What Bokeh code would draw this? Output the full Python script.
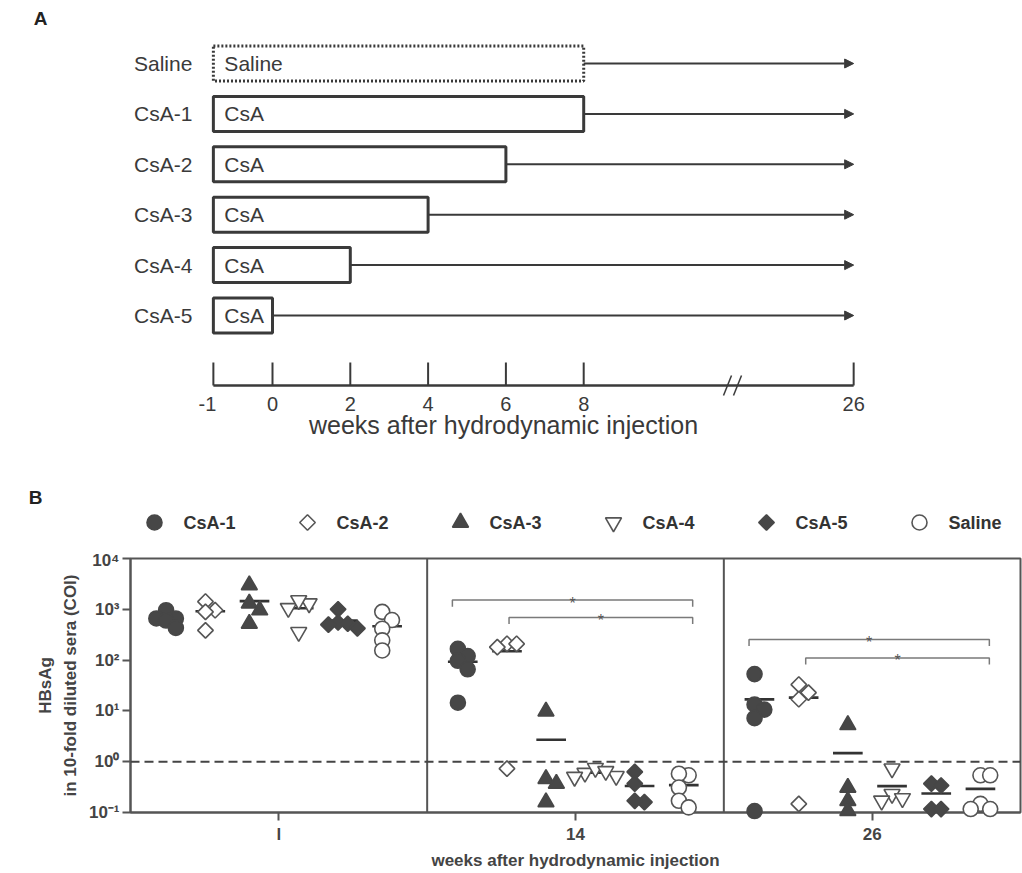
import numpy as np
from bokeh.plotting import figure
from bokeh.models import (Range1d, ColumnDataSource, Arrow, NormalHead, Span,
                          FixedTicker, CustomJSTickFormatter, LogAxis)
from bokeh.core.properties import value
from bokeh.embed import file_html
from bokeh.resources import INLINE

# ---------------- Panel A data (treatment schedule) ----------------
schedule_groups = ["Saline", "CsA-1", "CsA-2", "CsA-3", "CsA-4", "CsA-5"]
box_text = ["Saline", "CsA", "CsA", "CsA", "CsA", "CsA"]
treatment_end_week = [8, 8, 6, 4, 2, 0]
treatment_start_week = -1
follow_up_end_week = 26
timeline_weeks = [-1, 0, 2, 4, 6, 8, 26]
timeline_labels = ["-1", "0", "2", "4", "6", "8", "26"]
axis_title = "weeks after hydrodynamic injection"

# ---------------- Panel B data (HBsAg, COI) ----------------
timepoint_labels = ["l", "14", "26"]
groups = ["CsA-1", "CsA-2", "CsA-3", "CsA-4", "CsA-5", "Saline"]
csa1 = [[960, 660, 660, 600, 430], [166, 120, 97, 66, 14.5], [53, 13.4, 10.6, 7.2, 0.107]]
csa2 = [[1420, 960, 890, 385], [209, 180, 209, 0.73], [33, 22.9, 17, 0.148]]
csa3 = [[3000, 1310, 960, 525], [9.8, 0.46, 0.37, 0.16], [5.3, 0.31, 0.17, 0.108]]
csa4 = [[1300, 1050, 1500, 355], [0.6, 0.5, 0.75, 0.52, 0.65], [0.73, 0.23, 0.17, 0.19]]
csa5 = [[1000, 550, 520, 500, 420], [0.63, 0.37, 0.16, 0.17], [0.37, 0.34, 0.117, 0.117]]
saline = [[890, 615, 415, 245, 155], [0.54, 0.58, 0.31, 0.17, 0.126], [0.54, 0.54, 0.148, 0.117, 0.117]]
group_values = [csa1, csa2, csa3, csa4, csa5, saline]
y_ticks = [0.1, 1, 10, 100, 1000, 10000]
cutoff = 1
# significance brackets
sig_time = [1, 1, 2, 2]
sig_from = ["CsA-1", "CsA-2", "CsA-1", "CsA-2"]
sig_to = ["Saline", "Saline", "Saline", "Saline"]
sig_height = [1520, 690, 255, 110]

FONT = "Liberation Sans"
DARK = "#3a3a3a"
AXC = "#555555"
W = 1022

styles = [
    dict(marker="circle", size=15, fill_color="#474747", line_color="#474747", angle=0.0),
    dict(marker="square", size=11, fill_color="white", line_color="#555555", angle=np.pi / 4),
    dict(marker="triangle", size=16, fill_color="#474747", line_color="#474747", angle=0.0),
    dict(marker="inverted_triangle", size=16, fill_color="white", line_color="#555555", angle=0.0),
    dict(marker="square", size=11, fill_color="#474747", line_color="#474747", angle=np.pi / 4),
    dict(marker="circle", size=15, fill_color="white", line_color="#555555", angle=0.0),
]

# ======================= Top figure: panel A (+ legend of B) =======================
HA = 550
pA = figure(width=W, height=HA, x_axis_type=None, y_axis_type=None,
            x_range=Range1d(0, W), y_range=Range1d(HA, 0),
            toolbar_location=None, output_backend="svg", min_border=0)
pA.grid.visible = False
pA.outline_line_color = None

WEEK0, PXW = 272, 38.9
ROW0, ROW = 63, 50.4


def week_px(w):
    # schematic, broken time axis
    if w < 0:
        u = w * 1.52
    elif w > 8:
        u = 8 + 6.94
    else:
        u = w
    return WEEK0 + PXW * u


rows = [ROW0 + ROW * i for i in range(len(schedule_groups))]
half = 17.5
left = [week_px(treatment_start_week)] * len(rows)
right = [week_px(e) for e in treatment_end_week]
solid = [i for i, g in enumerate(schedule_groups) if g != "Saline"]
dotted = [i for i, g in enumerate(schedule_groups) if g == "Saline"]
for idx, dash in ((solid, "solid"), (dotted, "2 2")):
    pA.quad(left=[left[i] for i in idx], right=[right[i] for i in idx],
            top=[rows[i] - half for i in idx], bottom=[rows[i] + half for i in idx],
            fill_color="white", line_color=DARK, line_width=3, line_dash=dash)

arr_src = ColumnDataSource(dict(x0=right, y0=rows,
                                x1=[week_px(follow_up_end_week)] * len(rows), y1=rows))
pA.add_layout(Arrow(source=arr_src, x_start="x0", y_start="y0", x_end="x1", y_end="y1",
                    line_color=DARK, line_width=2,
                    end=NormalHead(size=9, fill_color=DARK, line_color=DARK)))

pA.text(x=[l - 21 for l in left], y=rows, text=schedule_groups,
        text_align="right", text_baseline="middle", text_font=value(FONT),
        text_font_size="21px", text_color=DARK)
pA.text(x=[l + 11 for l in left], y=rows, text=box_text,
        text_align="left", text_baseline="middle", text_font=value(FONT),
        text_font_size="21px", text_color=DARK)

axis_y = 385
tx = [week_px(w) for w in timeline_weeks]
pA.segment(x0=[tx[0]], y0=[axis_y], x1=[tx[-1]], y1=[axis_y], line_color=DARK, line_width=2.5)
pA.segment(x0=tx, y0=[axis_y] * len(tx), x1=tx, y1=[axis_y - 23] * len(tx),
           line_color=DARK, line_width=2)
label_shift = [-6 if w < 0 else 0 for w in timeline_weeks]
pA.text(x=[t + s for t, s in zip(tx, label_shift)], y=[axis_y + 18] * len(tx), text=timeline_labels,
        text_align="center", text_baseline="middle", text_font=value(FONT),
        text_font_size="20px", text_color=DARK)
pA.text(x=[503], y=[axis_y + 39], text=[axis_title],
        text_align="center", text_baseline="middle", text_font=value(FONT),
        text_font_size="25px", text_color=DARK)
# axis break mark "//"
brk = 733
pA.segment(x0=[brk - 10, brk], y0=[axis_y + 10] * 2, x1=[brk - 2, brk + 8], y1=[axis_y - 10] * 2,
           line_color=DARK, line_width=1.5)
pA.text(x=[40], y=[18], text=["A"], text_align="center", text_baseline="middle",
        text_font=value(FONT), text_font_size="19px", text_font_style="bold", text_color="#222222")

# legend of panel B (drawn in the top canvas, just above panel B)
pA.text(x=[35], y=[497], text=["B"], text_align="center", text_baseline="middle",
        text_font=value(FONT), text_font_size="19px", text_font_style="bold", text_color="#222222")
LEG_Y, LEG_X0, LEG_STEP = 522, 154, 153
for g, name in enumerate(groups):
    st = styles[g]
    lx = LEG_X0 + LEG_STEP * g
    pA.scatter(x=[lx], y=[LEG_Y], marker=st["marker"], size=st["size"], angle=-st["angle"],
               fill_color=st["fill_color"], line_color=st["line_color"], line_width=1.6)
    pA.text(x=[lx + 29], y=[LEG_Y], text=[name], text_align="left", text_baseline="middle",
            text_font=value(FONT), text_font_size="18px", text_font_style="bold",
            text_color="#333333")

# ======================= Bottom figure: panel B =======================
HB = 873 - HA
TOPB, LEFTB, RIGHTB = 8, 130, 2
BOTB = HB - TOPB - 254
FRAME_W = W - LEFTB - RIGHTB
FRAME_H = HB - TOPB - BOTB
PX_X = FRAME_W / 3.0
PX_DEC = FRAME_H / 5.0

pB = figure(width=W, height=HB, x_range=Range1d(0, 3), y_range=Range1d(0.1, 10000),
            y_axis_type="log", toolbar_location=None, output_backend="svg",
            min_border_left=LEFTB, min_border_right=RIGHTB,
            min_border_top=TOPB, min_border_bottom=BOTB)
pB.grid.visible = False
pB.outline_line_color = AXC
pB.outline_line_width = 2

xa = pB.xaxis[0]
xa.ticker = FixedTicker(ticks=[0.5, 1.5, 2.5], minor_ticks=[])
xa.formatter = CustomJSTickFormatter(args=dict(labels=timepoint_labels),
                                     code="return labels[Math.round(tick - 0.5)];")
xa.axis_label = axis_title
ya = pB.yaxis[0]
ya.ticker = FixedTicker(ticks=y_ticks, minor_ticks=[])
ya.formatter = CustomJSTickFormatter(code="""
const sup = {"-":"\u207b","0":"\u2070","1":"\u00b9","2":"\u00b2","3":"\u00b3","4":"\u2074"};
const e = Math.round(Math.log10(tick));
return "10" + String(e).split("").map(c => sup[c]).join("");""")
ya.axis_label = "in 10-fold diluted sera (COI)"
for ax in (xa, ya):
    ax.axis_line_color = AXC
    ax.axis_line_width = 2
    ax.major_tick_line_color = AXC
    ax.major_tick_line_width = 2
    ax.major_tick_out = 8
    ax.major_tick_in = 0
    ax.major_label_text_font = FONT
    ax.major_label_text_font_size = "17px"
    ax.major_label_text_font_style = "bold"
    ax.major_label_text_color = "#444444"
    ax.axis_label_text_font = FONT
    ax.axis_label_text_font_size = "17px"
    ax.axis_label_text_font_style = "bold"
    ax.axis_label_text_color = "#444444"
xa.major_label_standoff = 4
xa.axis_label_standoff = 4
ya.major_label_standoff = 3
ya.axis_label_standoff = 6

outer = LogAxis(ticker=FixedTicker(ticks=[], minor_ticks=[]), axis_label="HBsAg",
                axis_line_color=None, major_tick_line_color=None, minor_tick_line_color=None,
                major_label_text_font_size="0px", axis_label_standoff=3,
                axis_label_text_font=FONT, axis_label_text_font_size="17px",
                axis_label_text_font_style="bold", axis_label_text_color="#444444")
pB.add_layout(outer, "left")

for loc in (1, 2):
    pB.add_layout(Span(location=loc, dimension="height", line_color=AXC, line_width=2))
pB.add_layout(Span(location=cutoff, dimension="width", line_color="#444444",
                   line_width=2, line_dash="9 5"))


def swarm(vals, diam):
    """compact, GraphPad-like horizontal spreading of overlapping points (pixel space)"""
    ys = np.log10(np.asarray(vals, dtype=float)) * PX_DEC
    placed, res = [], [0.0] * len(vals)
    need = diam * 0.6
    for i in np.argsort(-ys):
        best, best_d = 0.0, -1.0
        for k in [0, 1, -1, 2, -2]:
            x = k * diam * 0.65
            d = min([np.hypot(x - px, ys[i] - py) for px, py in placed] or [1e9])
            if d >= need:
                best = x
                break
            if d > best_d:
                best, best_d = x, d
        placed.append((best, ys[i]))
        res[i] = best
    c = (max(res) + min(res)) / 2.0
    return [(r - c) / PX_X for r in res]


group_off = [0.12 + 0.149 * g for g in range(len(groups))]
mx0, mx1, my = [], [], []
for g, (name, vals3) in enumerate(zip(groups, group_values)):
    st = styles[g]
    xs, ys = [], []
    for t, vals in enumerate(vals3):
        cx = t + group_off[g]
        offs = swarm(vals, st["size"] * (1.35 if st["marker"] == "square" else 1.0))
        xs += [cx + o for o in offs]
        ys += list(vals)
        mx0.append(cx - 0.05)
        mx1.append(cx + 0.05)
        my.append(float(np.mean(vals)))
    pB.scatter(x=xs, y=ys, marker=st["marker"], size=st["size"], angle=st["angle"],
               fill_color=st["fill_color"], line_color=st["line_color"], line_width=1.6,
               level="overlay")
pB.segment(x0=mx0, y0=my, x1=mx1, y1=my, line_color="#333333", line_width=2.6)

bxs, bys, sx, sy = [], [], [], []
for t, a, b, h in zip(sig_time, sig_from, sig_to, sig_height):
    ia, ib = groups.index(a), groups.index(b)
    x0 = t + group_off[ia] - (0.035 if ia == 0 else -0.007)
    x1 = t + group_off[ib] + 0.03
    hl = h / 10 ** 0.13
    bxs.append([x0, x0, x1, x1])
    bys.append([hl, h, h, hl])
    sx.append((x0 + x1) / 2)
    sy.append(h)
pB.multi_line(xs=bxs, ys=bys, line_color="#7a7a7a", line_width=1.5)
pB.text(x=sx, y=sy, text=["*"] * len(sx), y_offset=3, text_align="center",
        text_baseline="alphabetic", text_font=value(FONT), text_font_size="16px",
        text_color="#555555")

open("out.html", "w").write(file_html([pA, pB], INLINE))
